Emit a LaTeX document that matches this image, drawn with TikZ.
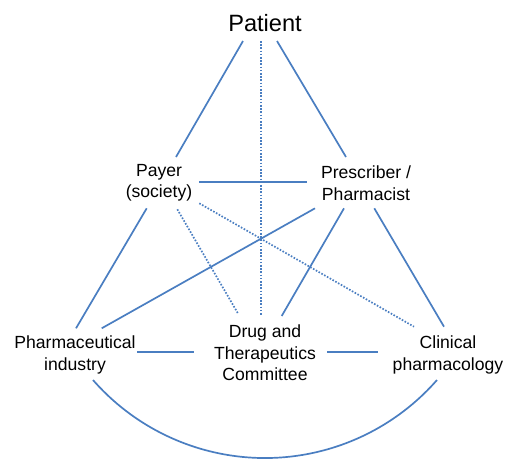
\documentclass[tikz,border=0pt]{standalone}
\usepackage{fontspec}
\setmainfont{Liberation Sans}
\usetikzlibrary{calc}
\definecolor{linkblue}{RGB}{74,126,193}
\begin{document}
\begin{tikzpicture}[x=1pt,y=-1pt,
  actor/.style={inner sep=0pt,align=center,font=\fontsize{17.6}{21.5}\selectfont},
  link/.style={draw=linkblue,line width=1.7pt},
  weaklink/.style={draw=linkblue,line width=1.7pt,dash pattern=on 1.6pt off 1.6pt}]
\useasboundingbox (0,0) rectangle (508,459);

% stakeholders
\node[actor,font=\fontsize{23.6}{28}\selectfont] (patient) at (265,23) {Patient};
\node[actor] (payer) at (159,183) {Payer\\(society)};
\node[actor] (prescriber) at (366,183) {Prescriber /\\Pharmacist};
\node[actor] (industry) at (75,355) {Pharmaceutical\\industry};
\node[actor] (dtc) at (265,353) {Drug and\\Therapeutics\\Committee};
\node[actor] (clinical) at (448,355) {Clinical\\pharmacology};

% strong relations
\draw[link] ($(patient)+(-22,18)$) -- ($(payer)+(17,-26)$);
\draw[link] ($(patient)+(12,18)$) -- ($(prescriber)+(-20,-26)$);
\draw[link] ($(payer)+(40,-1)$) -- ($(prescriber)+(-59,-1)$);
\draw[link] ($(payer)+(-12.3,25.3)$) -- ($(industry)+(1,-26.7)$);
\draw[link] ($(prescriber)+(-51,25.3)$) -- ($(industry)+(26.7,-26.7)$);
\draw[link] ($(prescriber)+(-22,25.3)$) -- ($(dtc)+(16.7,-37)$);
\draw[link] ($(prescriber)+(8.3,25.3)$) -- ($(clinical)+(-4,-28.3)$);
\draw[link] ($(industry)+(62,-3)$) -- ($(dtc)+(-71,-1)$);
\draw[link] ($(dtc)+(62,-1)$) -- ($(clinical)+(-70,-3)$);
\draw[link] ($(industry)+(18,25)$) arc[start angle=-138.8,end angle=-41.2,radius=228.6pt];

% weak relations
\draw[weaklink] ($(patient)+(-4.3,18)$) -- ($(dtc)+(-4.3,-37)$);
\draw[weaklink] ($(payer)+(18.3,26.3)$) -- ($(dtc)+(-26.7,-39)$);
\draw[weaklink] ($(payer)+(40.3,20.3)$) -- ($(clinical)+(-34,-28.3)$);
\end{tikzpicture}
\end{document}
